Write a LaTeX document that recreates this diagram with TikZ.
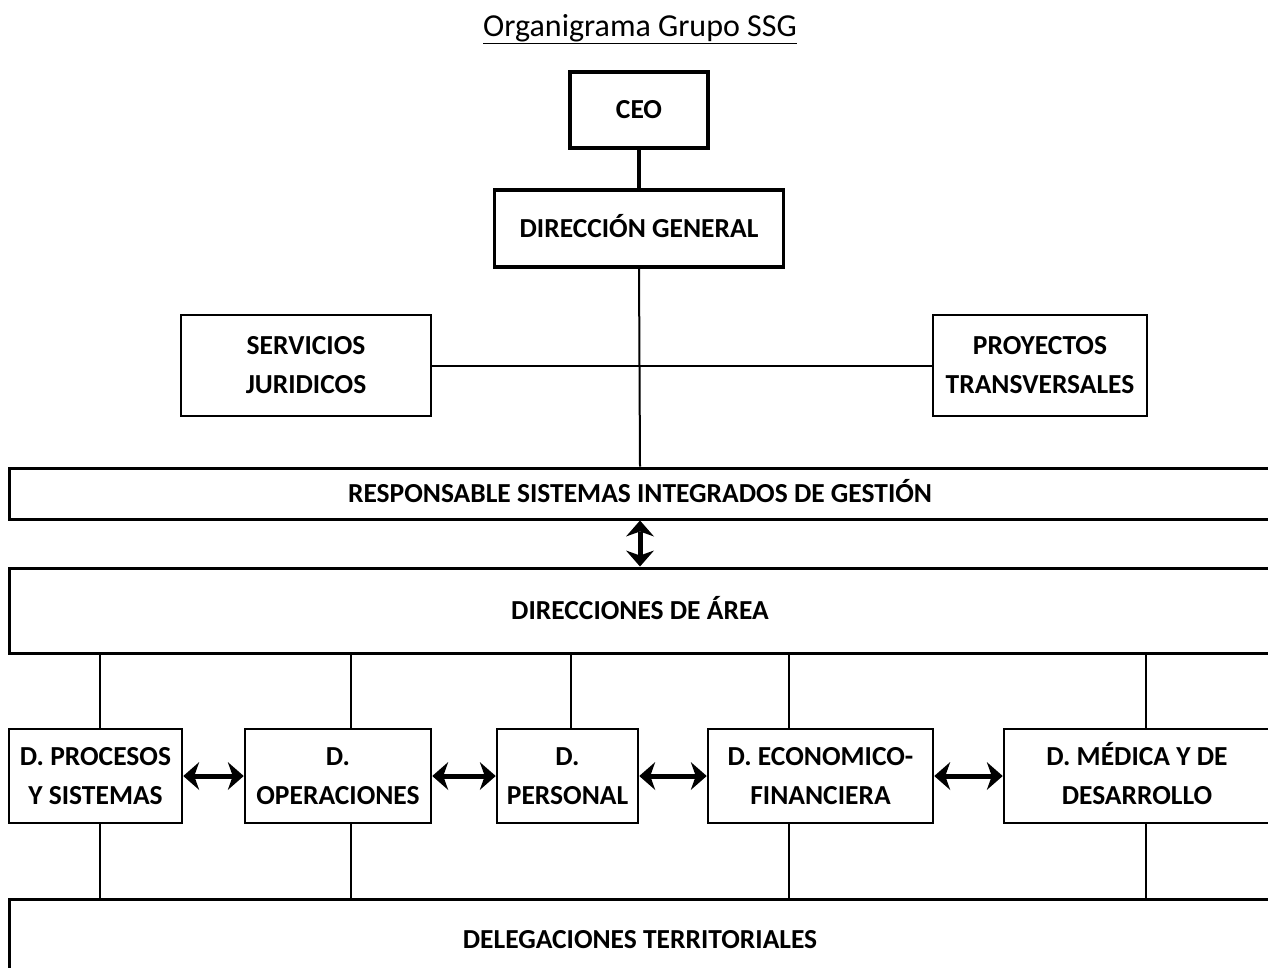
\documentclass[tikz,border=0pt]{standalone}
\usepackage{fontspec}
\setmainfont{Carlito}
\usetikzlibrary{arrows.meta,calc}
\begin{document}
\begin{tikzpicture}[x=1pt,y=-1pt,
  box/.style={draw, line width=2.5pt, inner sep=0pt, align=center,
    font=\fontsize{27.5}{39}\selectfont\bfseries},
  topbox/.style={box, line width=3.5pt},
  link/.style={line width=2pt},
  tip/.tip={Stealth[length=16pt,width=28pt,inset=5pt,line width=0pt]},
  dbl/.style={line width=5pt, tip-tip}
]
\useasboundingbox (0,0) rectangle (1268,967);
\clip (0,0) rectangle (1268,967);
\fill[white] (0,0) rectangle (1268,967);

\node[font=\fontsize{32}{36}\selectfont, inner sep=0pt] (title) at (640,29) {\underline{Organigrama Grupo SSG}};

\node[topbox, minimum width=138, minimum height=76] (ceo) at (639,110) {CEO};
\node[topbox, minimum width=289, minimum height=77] (dg) at (639,228.5) {DIRECCI\smash{Ó}N GENERAL};
\node[box, minimum width=250, minimum height=101] (sj) at (306,365.5) {SERVICIOS\\JURIDICOS};
\node[box, minimum width=214, minimum height=101] (pt) at (1040,365.5) {PROYECTOS\\TRANSVERSALES};
\node[box, line width=3pt, minimum width=1262, minimum height=51] (rsig) at (640,493.5) {RESPONSABLE SISTEMAS INTEGRADOS DE GESTI\smash{Ó}N};
\node[box, line width=3pt, minimum width=1262, minimum height=85] (dar) at (640,610.5) {DIRECCIONES DE \smash{Á}REA};
\node[box, minimum width=173, minimum height=94] (d1) at (95.5,776) {D. PROCESOS\\Y SISTEMAS};
\node[box, minimum width=186, minimum height=94] (d2) at (338,776) {D.\\OPERACIONES};
\node[box, minimum width=141, minimum height=94] (d3) at (567.5,776) {D.\\PERSONAL};
\node[box, minimum width=225, minimum height=94] (d4) at (820.5,776) {D. ECONOMICO-\\FINANCIERA};
\node[box, minimum width=266, minimum height=94] (d5) at (1137,776) {D. M\smash{É}DICA Y DE\\DESARROLLO};
\node[box, line width=3pt, minimum width=1262, minimum height=82] (del) at (640,940) {DELEGACIONES TERRITORIALES};

\draw[line width=3.5pt] (ceo.south) -- (dg.north);
\draw[link] (dg.south) -- (rsig.north);
\draw[link] (sj.east) -- (pt.west);
\draw[dbl] (rsig.south) -- (dar.north);

\coordinate (x1) at (100,0);
\coordinate (x2) at (351,0);
\coordinate (x3) at (571,0);
\coordinate (x4) at (789,0);
\coordinate (x5) at (1146,0);
\foreach \x/\d in {x1/d1,x2/d2,x3/d3,x4/d4,x5/d5}
  \draw[link] (dar.south -| \x) -- (\d.north -| \x);
\foreach \x/\d in {x1/d1,x2/d2,x4/d4,x5/d5}
  \draw[link] (\d.south -| \x) -- (del.north -| \x);

\draw[dbl] (d1.east) -- (d2.west);
\draw[dbl] (d2.east) -- (d3.west);
\draw[dbl] (d3.east) -- (d4.west);
\draw[dbl] (d4.east) -- (d5.west);
\end{tikzpicture}
\end{document}
